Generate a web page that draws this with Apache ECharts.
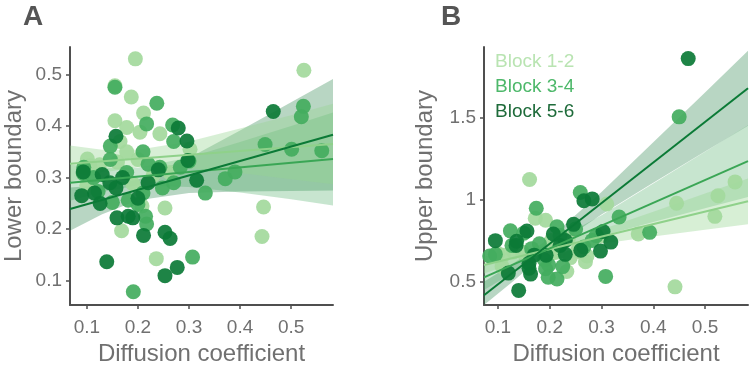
<!DOCTYPE html>
<html>
<head>
    <meta charset="utf-8">
    <title>Boundaries vs diffusion</title>
    <script src="https://cdn.jsdelivr.net/npm/echarts@6/dist/echarts.min.js"></script>
    <style>
        html, body { margin: 0; padding: 0; background: #fff; }
        #main { width: 750px; height: 371px; }
    </style>
</head>
<body>
    <div id="main"></div>
    <script type="text/javascript">
    // block names and colours
    var blocks = ['Block 1-2', 'Block 3-4', 'Block 5-6'];
    var dotColors = ['#a3d99c', '#43ac5e', '#0b7a36'];
    var lineColors = ['#8fd18a', '#3aa655', '#0b7a36'];
    var bandColors = ['rgba(150,212,145,0.38)', 'rgba(70,170,95,0.30)', 'rgba(20,120,55,0.30)'];
    var legendColors = ['#b9e4b2', '#4db86a', '#1e6b3a'];

    var xTicks = [0.1, 0.2, 0.3, 0.4, 0.5];
    var yTicksA = [0.1, 0.2, 0.3, 0.4, 0.5];
    var yTicksB = [0.5, 1, 1.5];

    // panel A : lower boundary
    var lowerB12 = [[0.195,0.53],[0.525,0.508],[0.155,0.478],[0.187,0.456],[0.211,0.425],[0.155,0.41],[0.178,0.397],[0.243,0.385],[0.204,0.388],[0.302,0.355],[0.101,0.336],[0.446,0.243],[0.443,0.186],[0.253,0.241],[0.168,0.197],[0.236,0.143],[0.1,0.285],[0.19,0.288],[0.23,0.305],[0.262,0.31],[0.106,0.323],[0.16,0.33],[0.2,0.335],[0.165,0.37],[0.178,0.35],[0.125,0.325],[0.208,0.245]];
    var lowerB34 = [[0.155,0.475],[0.237,0.444],[0.217,0.404],[0.268,0.402],[0.27,0.37],[0.146,0.361],[0.21,0.35],[0.30,0.332],[0.524,0.438],[0.52,0.418],[0.449,0.364],[0.501,0.355],[0.56,0.352],[0.371,0.298],[0.39,0.311],[0.332,0.27],[0.093,0.308],[0.217,0.21],[0.215,0.225],[0.307,0.146],[0.191,0.079],[0.094,0.32],[0.113,0.3],[0.122,0.273],[0.178,0.31],[0.21,0.27],[0.243,0.32],[0.248,0.28],[0.27,0.29],[0.15,0.252],[0.181,0.256],[0.2,0.248],[0.22,0.326],[0.146,0.335],[0.283,0.32]];
    var lowerB56 = [[0.279,0.396],[0.157,0.38],[0.296,0.371],[0.465,0.428],[0.315,0.295],[0.09,0.265],[0.126,0.25],[0.159,0.222],[0.181,0.225],[0.19,0.222],[0.211,0.188],[0.253,0.194],[0.263,0.182],[0.139,0.137],[0.253,0.11],[0.277,0.126],[0.13,0.306],[0.157,0.28],[0.093,0.311],[0.298,0.333],[0.17,0.3],[0.22,0.29],[0.24,0.315],[0.145,0.29],[0.2,0.26],[0.115,0.27]];

    // panel B : upper boundary
    var upperB12 = [[0.161,1.124],[0.31,0.974],[0.445,0.978],[0.525,1.024],[0.558,1.109],[0.519,0.898],[0.371,0.79],[0.442,0.466],[0.192,0.874],[0.172,0.886],[0.254,0.69],[0.272,0.655],[0.26,0.68],[0.24,0.645],[0.216,0.68],[0.203,0.75],[0.108,0.59],[0.13,0.68],[0.236,0.76],[0.21,0.72],[0.147,0.68],[0.11,0.66],[0.1,0.67],[0.3,0.78],[0.233,0.56],[0.269,0.62],[0.208,0.675]];
    var upperB34 = [[0.45,1.508],[0.259,1.044],[0.174,0.948],[0.334,0.894],[0.393,0.8],[0.308,0.53],[0.084,0.655],[0.124,0.809],[0.15,0.795],[0.214,0.834],[0.22,0.78],[0.282,0.75],[0.266,0.71],[0.225,0.59],[0.198,0.6],[0.19,0.63],[0.127,0.72],[0.095,0.665],[0.18,0.73],[0.165,0.7],[0.25,0.82],[0.192,0.577],[0.214,0.514],[0.197,0.525],[0.29,0.78]];
    var upperB56 = [[0.4675,1.865],[0.266,0.994],[0.282,1.005],[0.14,0.444],[0.095,0.749],[0.136,0.745],[0.156,0.808],[0.246,0.849],[0.207,0.79],[0.303,0.805],[0.318,0.74],[0.298,0.685],[0.26,0.69],[0.16,0.61],[0.163,0.544],[0.16,0.58],[0.17,0.66],[0.22,0.72],[0.23,0.75],[0.193,0.66],[0.23,0.665],[0.135,0.72],[0.12,0.55]];

    // regression fits: y at the two ends of the x range
    var fitXA = [0.067, 0.582];
    var fitA = [[0.327, 0.365], [0.29, 0.336], [0.239, 0.383]];
    var fitXB = [0.073, 0.583];
    var fitB = [[0.6, 0.99], [0.524, 1.237], [0.414, 1.683]];

    // confidence bands [lower, upper] at bandX
    var bandXA = [0.067, 0.13, 0.2, 0.3, 0.4, 0.5, 0.582];
    var bandA12 = [[0.292,0.362],[0.310,0.354],[0.320,0.354],[0.318,0.370],[0.309,0.395],[0.297,0.421],[0.287,0.443]];
    var bandA34 = [[0.255,0.325],[0.272,0.319],[0.285,0.319],[0.282,0.339],[0.271,0.369],[0.258,0.400],[0.246,0.426]];
    var bandA56 = [[0.197,0.281],[0.229,0.285],[0.256,0.296],[0.270,0.338],[0.273,0.391],[0.274,0.446],[0.275,0.491]];
    var bandXB = [0.073, 0.13, 0.2, 0.3, 0.4, 0.5, 0.583];
    var bandB12 = [[0.548,0.652],[0.609,0.679],[0.672,0.722],[0.730,0.818],[0.774,0.926],[0.816,1.038],[0.850,1.130]];
    var bandB34 = [[0.446,0.602],[0.554,0.654],[0.672,0.732],[0.777,0.905],[0.863,1.099],[0.948,1.294],[1.017,1.457]];
    var bandB56 = [[0.331,0.497],[0.502,0.610],[0.695,0.765],[0.910,1.048],[1.104,1.352],[1.295,1.657],[1.453,1.913]];

    var font = 'Liberation Sans, Arial, sans-serif';
    var axisGray = '#4f4f4f';
    var textGray = '#707070';

    function makeAxis(idx, min, max, ticks, name, gap, isY) {
        return {
            type: 'value', gridIndex: idx, min: min, max: max,
            axisLine: { show: true, lineStyle: { color: axisGray, width: 2 } },
            axisTick: { show: true, customValues: ticks, length: 4, lineStyle: { color: axisGray, width: 1.5 } },
            axisLabel: { customValues: ticks, color: textGray, fontSize: 19, fontFamily: font, margin: isY ? 8 : 13 },
            splitLine: { show: false },
            name: name, nameLocation: 'middle', nameGap: gap,
            nameTextStyle: { color: textGray, fontSize: 24, fontFamily: font }
        };
    }

    function bandSeries(idx, xs, band, color) {
        return {
            type: 'custom', xAxisIndex: idx, yAxisIndex: idx, z: 1, silent: true,
            data: [[xs[0], band[0][0]]],
            renderItem: function (params, api) {
                var pts = [];
                for (var i = 0; i < xs.length; i++) pts.push(api.coord([xs[i], band[i][0]]));
                for (var j = xs.length - 1; j >= 0; j--) pts.push(api.coord([xs[j], band[j][1]]));
                pts = echarts.graphic.clipPointsByRect(pts, params.coordSys);
                return { type: 'polygon', shape: { points: pts }, style: { fill: color } };
            }
        };
    }

    function fitSeries(idx, xs, fit, color) {
        return {
            type: 'line', xAxisIndex: idx, yAxisIndex: idx, z: 4, silent: true,
            showSymbol: false, symbol: 'none',
            data: [[xs[0], fit[0]], [xs[1], fit[1]]],
            lineStyle: { color: color, width: 2 }
        };
    }

    function dotSeries(idx, k, data) {
        return {
            name: blocks[k], type: 'scatter', xAxisIndex: idx, yAxisIndex: idx, z: 3,
            symbolSize: 15, data: data,
            itemStyle: { color: dotColors[k], opacity: 0.92 }
        };
    }

    var bandsA = [bandA12, bandA34, bandA56];
    var bandsB = [bandB12, bandB34, bandB56];
    var dotsA = [lowerB12, lowerB34, lowerB56];
    var dotsB = [upperB12, upperB34, upperB56];

    var series = [];
    [2, 1, 0].forEach(function (k) {
        series.push(bandSeries(0, bandXA, bandsA[k], bandColors[k]));
        series.push(bandSeries(1, bandXB, bandsB[k], bandColors[k]));
    });
    [0, 1, 2].forEach(function (k) {
        series.push(dotSeries(0, k, dotsA[k]));
        series.push(dotSeries(1, k, dotsB[k]));
    });
    [0, 1, 2].forEach(function (k) {
        series.push(fitSeries(0, fitXA, fitA[k], lineColors[k]));
        series.push(fitSeries(1, fitXB, fitB[k], lineColors[k]));
    });

    var chart = echarts.init(document.getElementById('main'), null, { renderer: 'canvas' });
    chart.setOption({
        animation: false,
        backgroundColor: '#fff',
        title: [
            { text: 'A', left: 18, top: -2, textStyle: { fontSize: 28, fontWeight: 'bold', color: '#555', fontFamily: font } },
            { text: 'B', left: 436, top: -2, textStyle: { fontSize: 28, fontWeight: 'bold', color: '#555', fontFamily: font } }
        ],
        legend: {
            orient: 'vertical', left: 485, top: 47, itemWidth: 0, itemHeight: 0, itemGap: 6,
            selectedMode: false,
            textStyle: { fontSize: 19, fontFamily: font },
            data: blocks.map(function (b, k) {
                return { name: b, icon: 'none', textStyle: { color: legendColors[k] } };
            })
        },
        grid: [
            { left: 70, top: 47, width: 263, height: 264 },
            { left: 484, top: 47, width: 264, height: 265 }
        ],
        xAxis: [
            makeAxis(0, 0.067, 0.582, xTicks, 'Diffusion coefficient', 32, false),
            makeAxis(1, 0.073, 0.583, xTicks, 'Diffusion coefficient', 32, false)
        ],
        yAxis: [
            makeAxis(0, 0.053, 0.553, yTicksA, 'Lower boundary', 44, true),
            makeAxis(1, 0.354, 1.936, yTicksB, 'Upper boundary', 47, true)
        ],
        series: series
    });
    </script>
</body>
</html>
